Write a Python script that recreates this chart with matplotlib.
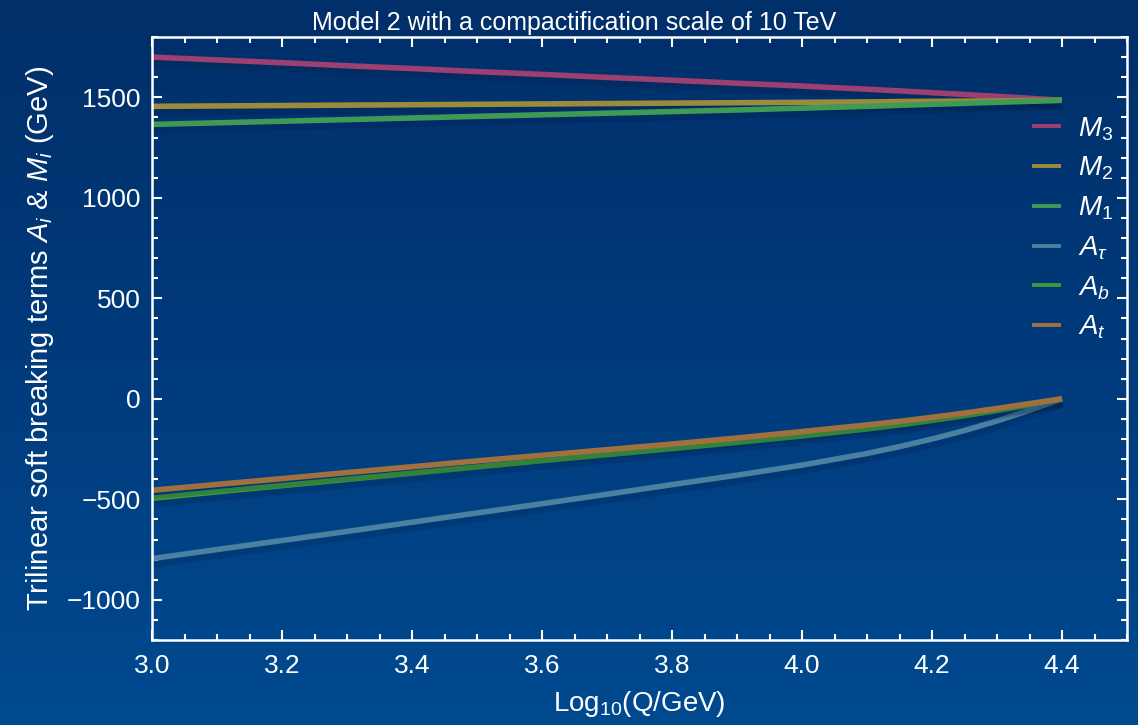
import numpy as np
import matplotlib
matplotlib.use("Agg")
import matplotlib.pyplot as plt
import matplotlib.patheffects as pe
from matplotlib.ticker import MultipleLocator, FormatStrFormatter, FuncFormatter
from matplotlib.colors import LinearSegmentedColormap

plt.rcParams['font.family'] = ['Liberation Sans', 'DejaVu Sans']
plt.rcParams['mathtext.fontset'] = 'custom'
plt.rcParams['mathtext.rm'] = 'Liberation Sans'
plt.rcParams['mathtext.it'] = 'Liberation Sans:italic'

# x grid: log10(Q/GeV)
log_q = [3.0, 3.1, 3.2, 3.3, 3.4, 3.5, 3.6, 3.7, 3.8, 3.9, 4.0,
         4.1, 4.15, 4.2, 4.25, 4.3, 4.35, 4.4]

# gaugino masses (GeV)
m3 = [1700, 1686, 1672, 1657, 1643, 1628, 1614, 1599, 1585, 1570, 1556,
      1540, 1532, 1523, 1514, 1505, 1495, 1485]
m2 = [1455, 1457, 1459, 1461, 1463, 1465, 1467, 1469, 1471, 1473, 1475,
      1477, 1479, 1480, 1481, 1482, 1484, 1485]
m1 = [1365, 1373, 1381, 1389, 1397, 1405, 1413, 1421, 1429, 1437, 1446,
      1455, 1460, 1465, 1470, 1475, 1480, 1485]

# trilinear terms (GeV)
a_tau = [-795, -750, -705, -660, -614, -568, -522, -475, -427, -380, -330,
         -272, -238, -200, -158, -110, -57, 0]
a_b = [-495, -463, -432, -401, -370, -339, -308, -278, -248, -217, -185,
       -150, -130, -108, -84, -58, -30, 0]
a_t = [-455, -426, -397, -367, -338, -309, -281, -253, -225, -195, -163,
       -130, -112, -92, -71, -48, -24, 0]

labels = ['$M_3$', '$M_2$', '$M_1$', r'$A_\tau$', '$A_b$', '$A_t$']
colors = ['#9e3f72', '#9c8b3c', '#3f9a55', '#4a80a0', '#3f9a3c', '#a0703e']
series = [m3, m2, m1, a_tau, a_b, a_t]

W, H = 1138, 725
fig = plt.figure(figsize=(W / 100, H / 100), dpi=100)

# gradient background
bg = fig.add_axes([0, 0, 1, 1])
cmap = LinearSegmentedColormap.from_list('bg', ['#002f69', '#003b7c', '#004a90'])
grad = np.linspace(0, 1, 256).reshape(-1, 1)
bg.imshow(grad, aspect='auto', cmap=cmap, extent=[0, 1, 0, 1])
bg.set_axis_off()

top, bottom, left, right = 37, 640, 152, 1127
ax = fig.add_axes([left / W, 1 - bottom / H, (right - left) / W, (bottom - top) / H])
ax.set_facecolor('none')

shadow = [pe.SimpleLineShadow(offset=(0.5, -3), shadow_color='#001638', alpha=0.18,
                              linewidth=7),
          pe.Normal()]
for y, lab, c in zip(series, labels, colors):
    ax.plot(log_q, y, color=c, lw=4.0, label=lab, solid_capstyle='butt',
            solid_joinstyle='round', path_effects=shadow)

ax.set_xlim(3.0, 4.5)
ax.set_ylim(-1200, 1800)
ax.xaxis.set_major_locator(MultipleLocator(0.2))
ax.xaxis.set_minor_locator(MultipleLocator(0.05))
ax.yaxis.set_major_locator(MultipleLocator(500))
ax.yaxis.set_minor_locator(MultipleLocator(100))
ax.xaxis.set_major_formatter(FormatStrFormatter('%.1f'))
ax.yaxis.set_major_formatter(FuncFormatter(
    lambda v, p: ('\u2212%d' % -v) if v < 0 else '%d' % v))

ax.tick_params(which='both', direction='in', colors='white', top=True, right=True,
               labelsize=19, width=1.5)
ax.tick_params(which='major', length=7)
ax.tick_params(axis='x', which='major', pad=10)
ax.tick_params(axis='y', which='major', pad=8)
ax.tick_params(which='minor', length=4)
for s in ax.spines.values():
    s.set_color('white')
    s.set_linewidth(1.8)

ax.set_xlabel('Log$_{10}$(Q/GeV)', color='white', fontsize=20, labelpad=8)
ax.set_ylabel('Trilinear soft breaking terms $A_i$ & $M_i$ (GeV)', color='white',
              fontsize=21, labelpad=8)
fig.text(574 / W, 1 - 30 / H, 'Model 2 with a compactification scale of 10 TeV',
         color='white', fontsize=18, ha='center', va='baseline')

leg = ax.legend(loc='upper left', bbox_to_anchor=((1021 - left) / (right - left),
                                                  (bottom - 104) / (bottom - top)),
                frameon=False, fontsize=20, handlelength=1.05, handletextpad=0.6,
                labelspacing=0.44, labelcolor='white', borderaxespad=0)
for h in leg.get_lines():
    h.set_linewidth(2.8)
    h.set_path_effects([])

fig.savefig('out.png', dpi=100)
